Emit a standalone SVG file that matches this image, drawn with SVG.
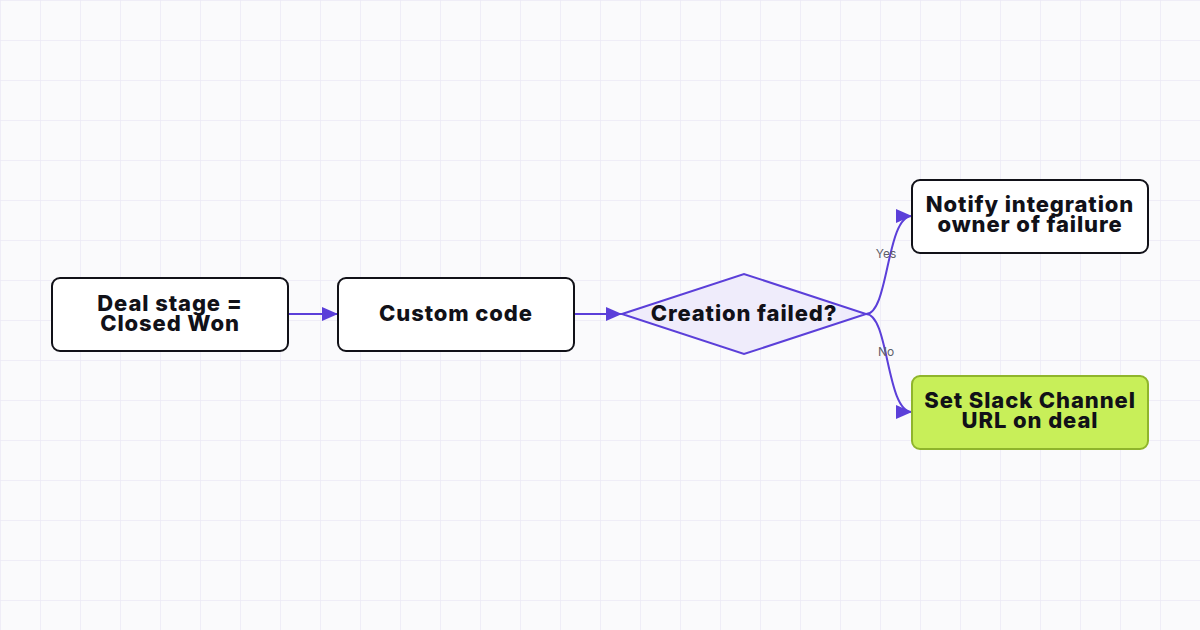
<svg xmlns="http://www.w3.org/2000/svg" width="1200" height="630" viewBox="0 0 1200 630">
<defs>
<pattern id="grid" width="40" height="40" patternUnits="userSpaceOnUse">
<path d="M0 0H40M0 0V40" fill="none" stroke="#ebe9f6" stroke-width="1.5"/>
</pattern>
<marker id="arr" viewBox="0 0 16 14" refX="16" refY="7" markerWidth="16" markerHeight="14" markerUnits="userSpaceOnUse" orient="auto">
<path d="M0 0L16 7L0 14Z" fill="#5b3fd9"/>
</marker>
<style>
.box{fill:#fff;stroke:#111118;stroke-width:2}
.t{font-family:Inter,"Liberation Sans",sans-serif;font-weight:800;font-size:22px;letter-spacing:0.9px;fill:#111118;text-anchor:middle}
.c{fill:none;stroke:#5b3fd9;stroke-width:2}
.lbl{font-family:Inter,"Liberation Sans",sans-serif;font-size:12px;fill:#5f5f6a;text-anchor:middle}
</style>
</defs>
<rect width="1200" height="630" fill="#fafafc"/>
<rect width="1200" height="630" fill="url(#grid)"/>
<g id="connectors">
<path class="c" d="M288 314H338" marker-end="url(#arr)"/>
<path class="c" d="M574 314H622" marker-end="url(#arr)"/>
<path class="c" d="M866 314C889 314 886 216 912 216" marker-end="url(#arr)"/>
<path class="c" d="M866 314C889 314 886 412 912 412" marker-end="url(#arr)"/>
<text class="lbl" x="886" y="258">Yes</text>
<text class="lbl" x="886" y="356">No</text>
</g>
<g id="n1">
<rect class="box" x="52" y="278" width="236" height="73" rx="8"/>
<text class="t" x="170" y="311">Deal stage =</text>
<text class="t" x="170" y="331">Closed Won</text>
</g>
<g id="n2">
<rect class="box" x="338" y="278" width="236" height="73" rx="8"/>
<text class="t" x="456" y="321">Custom code</text>
</g>
<g id="n3">
<path d="M622 314L744 274L866 314L744 354Z" fill="#efecfb" stroke="#5b3fd9" stroke-width="2"/>
<text class="t" x="744" y="321">Creation failed?</text>
</g>
<g id="n4">
<rect class="box" x="912" y="180" width="236" height="73" rx="8"/>
<text class="t" x="1030" y="212">Notify integration</text>
<text class="t" x="1030" y="232">owner of failure</text>
</g>
<g id="n5">
<rect x="912" y="376" width="236" height="73" rx="8" fill="#c8ef59" stroke="#8fb52c" stroke-width="2"/>
<text class="t" x="1030" y="408">Set Slack Channel</text>
<text class="t" x="1030" y="428">URL on deal</text>
</g>
</svg>
